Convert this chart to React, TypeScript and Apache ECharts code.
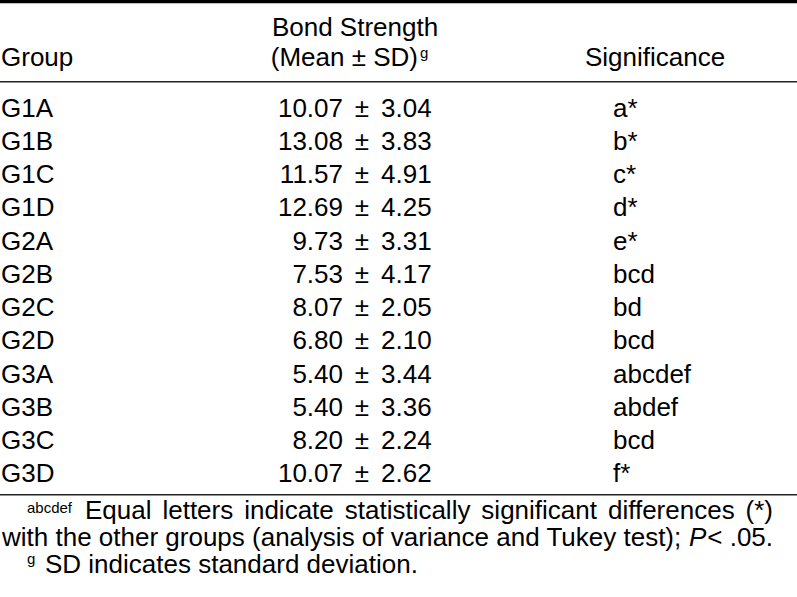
import { useEffect, useRef } from "react";
import * as echarts from "echarts";

const groups = ["G1A", "G1B", "G1C", "G1D", "G2A", "G2B", "G2C", "G2D", "G3A", "G3B", "G3C", "G3D"];
const means = [10.07, 13.08, 11.57, 12.69, 9.73, 7.53, 8.07, 6.8, 5.4, 5.4, 8.2, 10.07];
const sds = [3.04, 3.83, 4.91, 4.25, 3.31, 4.17, 2.05, 2.1, 3.44, 3.36, 2.24, 2.62];
const significance = ["a*", "b*", "c*", "d*", "e*", "bcd", "bd", "bcd", "abcdef", "abdef", "bcd", "f*"];
const headerGroup = "Group";
const headerBond1 = "Bond Strength";
const headerBond2 = "(Mean \u00b1 SD)";
const headerSig = "Significance";
const footnote1Sup = "abcdef";
const footnote1Words = ["Equal", "letters", "indicate", "statistically", "significant", "differences", "(*)"];
const footnote2a = "with the other groups (analysis of variance and Tukey test); ";
const footnote2P = "P";
const footnote2b = "< .05.";
const footnote3Sup = "g";
const footnote3 = "SD indicates standard deviation.";

const FAMILY = '"Liberation Sans", Arial, Helvetica, sans-serif';
const FS = 26;
const SUP = 15;
const COLOR = "#000";
const MID = 0.35; // baseline -> middle offset factor

function measure(text: string, size: number, italic = false): number {
  const c = document.createElement("canvas").getContext("2d")!;
  c.font = `${italic ? "italic " : ""}${size}px ${FAMILY}`;
  return c.measureText(text).width;
}

function txt(text: string, x: number, baseline: number, align: string, size = FS, italic = false) {
  return {
    type: "text",
    x,
    y: baseline - size * MID,
    silent: true,
    style: {
      text,
      fill: COLOR,
      fontSize: size,
      fontFamily: FAMILY,
      fontStyle: italic ? "italic" : "normal",
      textAlign: align,
      align,
      textVerticalAlign: "middle",
      verticalAlign: "middle",
    },
  };
}

export default function App() {
  const ref = useRef<HTMLDivElement>(null);
  useEffect(() => {
    document.body.style.margin = "0";
    const chart = echarts.init(ref.current!, null, { renderer: "svg" });
    const els: any[] = [];
    // rules
    els.push({ type: "rect", shape: { x: 0, y: 0, width: 797, height: 3.2 }, style: { fill: "#000" } });
    els.push({ type: "rect", shape: { x: 0, y: 81, width: 797, height: 1.6 }, style: { fill: "#222" } });
    els.push({ type: "rect", shape: { x: 0, y: 494, width: 797, height: 1.6 }, style: { fill: "#222" } });
    // headers
    els.push(txt(headerBond1, 355, 36, "center"));
    els.push(txt(headerBond2, 418, 66.5, "right"));
    els.push(txt("g", 420, 58, "left", SUP));
    els.push(txt(headerGroup, 1, 66.5, "left"));
    els.push(txt(headerSig, 585, 66.5, "left"));
    // rows
    const row0 = 116.7;
    const step = 33.25;
    groups.forEach((g, i) => {
      const b = row0 + i * step;
      els.push(txt(g, 1, b, "left"));
      els.push(txt(means[i].toFixed(2), 343, b, "right"));
      els.push(txt("\u00b1", 362, b, "center"));
      els.push(txt(sds[i].toFixed(2), 381, b, "left"));
      els.push(txt(significance[i], 613, b, "left"));
    });
    // footnote line 1 (justified)
    const f1 = 519;
    els.push(txt(footnote1Sup, 27, f1 - 6, "left", SUP));
    const startX = 85;
    const endX = 773;
    const widths = footnote1Words.map((w) => measure(w, FS));
    const total = widths.reduce((a, b) => a + b, 0);
    const gap = (endX - startX - total) / (footnote1Words.length - 1);
    let cx = startX;
    footnote1Words.forEach((w, i) => {
      els.push(txt(w, cx, f1, "left"));
      cx += widths[i] + gap;
    });
    // footnote line 2
    const f2 = 546;
    const w2a = measure(footnote2a, FS);
    const wP = measure(footnote2P, FS, true);
    els.push(txt(footnote2a, 2, f2, "left"));
    els.push(txt(footnote2P, 2 + w2a, f2, "left", FS, true));
    els.push(txt(footnote2b, 2 + w2a + wP + 1, f2, "left"));
    // footnote line 3
    const f3 = 572.7;
    els.push(txt(footnote3Sup, 27, f3 - 9, "left", SUP));
    els.push(txt(footnote3, 45, f3, "left"));

    chart.setOption({
      animation: false,
      backgroundColor: "#fff",
      graphic: { elements: els },
    });
    return () => chart.dispose();
  }, []);
  return (
    <div
      ref={ref}
      style={{ position: "fixed", left: 0, top: 0, width: 797, height: 597, background: "#fff" }}
    />
  );
}
